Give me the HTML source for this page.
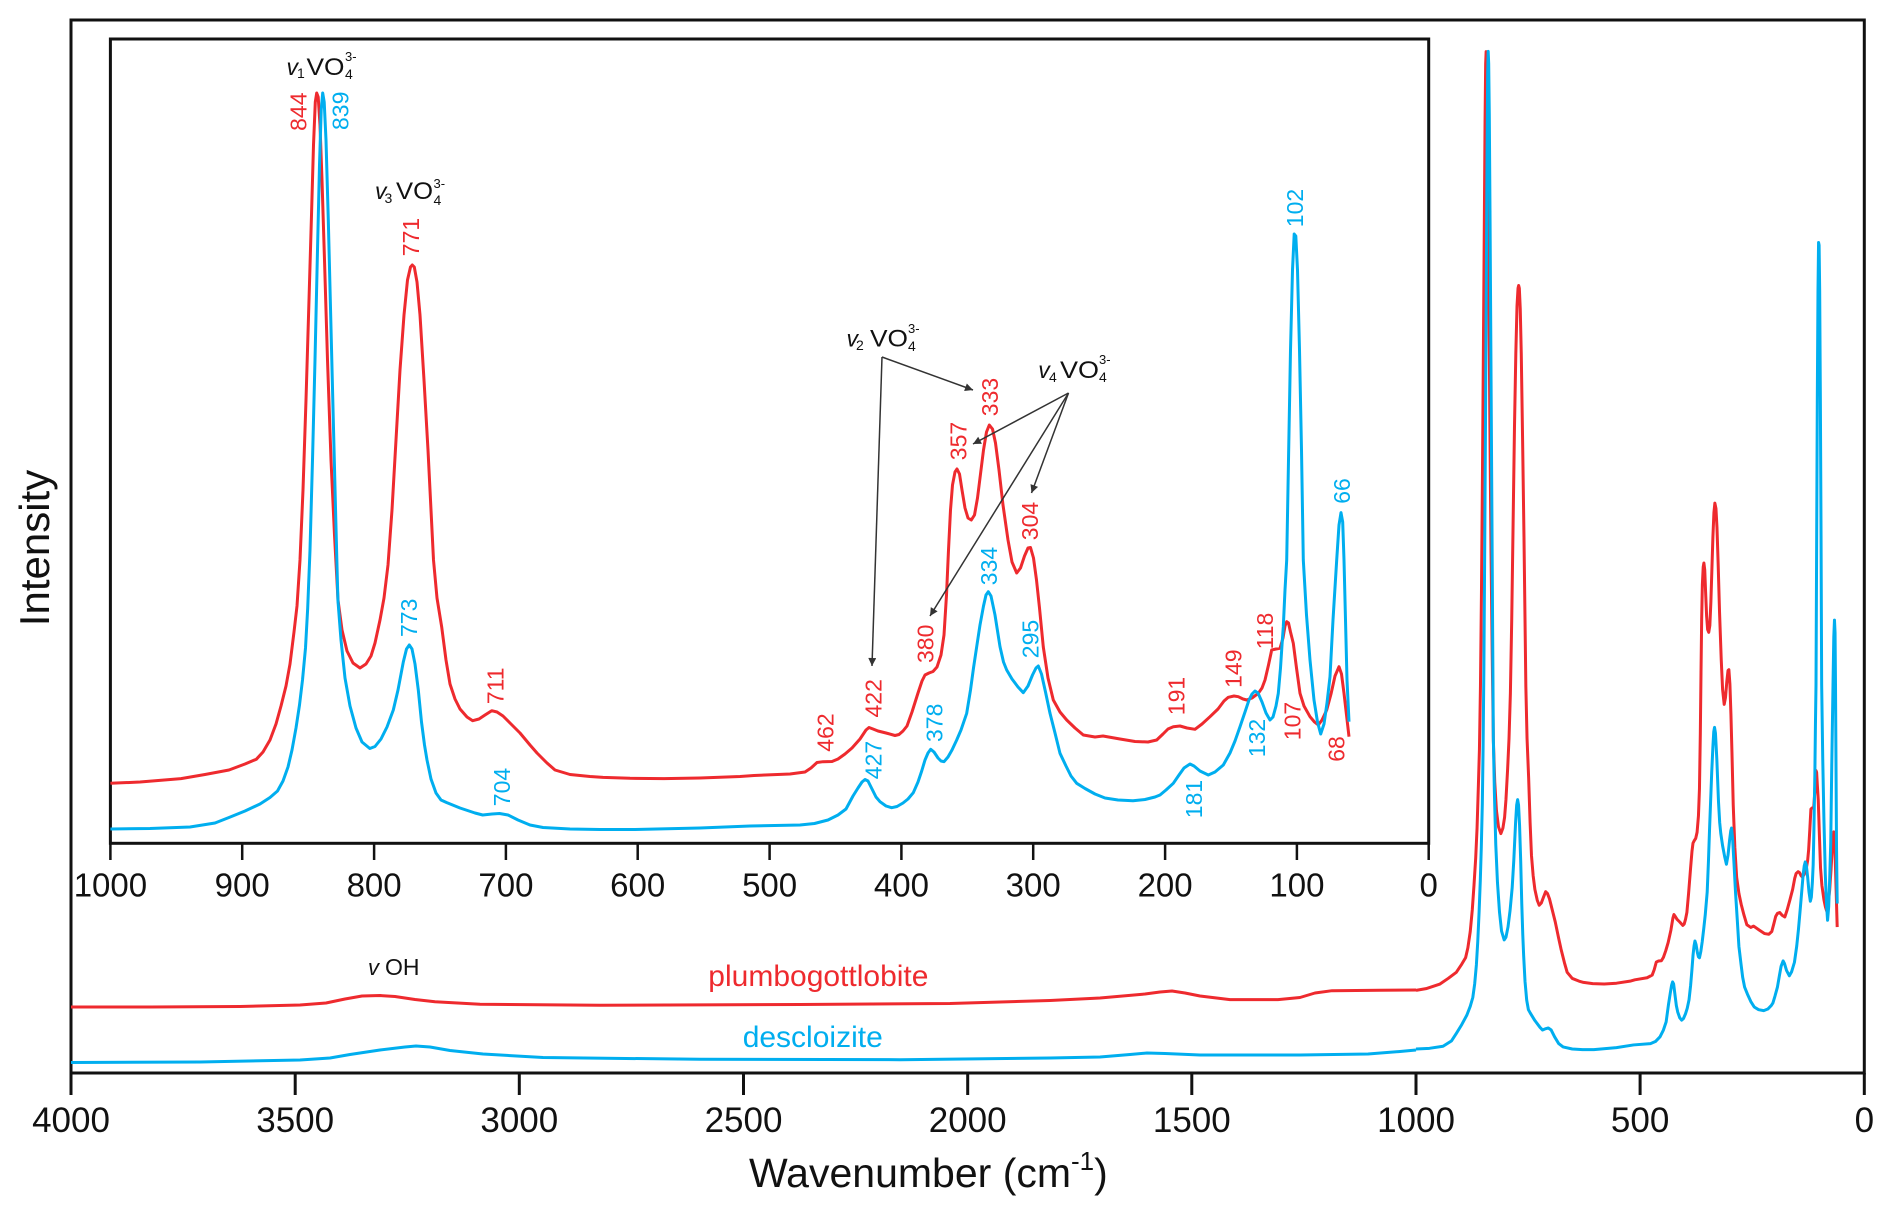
<!DOCTYPE html>
<html><head><meta charset="utf-8"><style>
html,body{margin:0;padding:0;background:#fff;}
svg{display:block;}
text{font-family:"Liberation Sans",Arial,sans-serif;}
</style></head><body>
<svg width="1892" height="1216" viewBox="0 0 1892 1216" xmlns="http://www.w3.org/2000/svg">
<defs>
<marker id="ah" viewBox="0 0 10 10" refX="10" refY="5" markerWidth="11" markerHeight="8" markerUnits="userSpaceOnUse" orient="auto"><path d="M0,0 L10,5 L0,10 z" fill="#333"/></marker>
</defs>
<rect x="0" y="0" width="1892" height="1216" fill="#fff"/>

<!-- outer frame -->
<rect x="71" y="20" width="1793.3" height="1053" fill="none" stroke="#111" stroke-width="3"/>
<g stroke="#111" stroke-width="3">
<line x1="71" y1="1073" x2="71" y2="1095"/>
<line x1="295.2" y1="1073" x2="295.2" y2="1095"/>
<line x1="519.3" y1="1073" x2="519.3" y2="1095"/>
<line x1="743.5" y1="1073" x2="743.5" y2="1095"/>
<line x1="967.7" y1="1073" x2="967.7" y2="1095"/>
<line x1="1191.8" y1="1073" x2="1191.8" y2="1095"/>
<line x1="1416" y1="1073" x2="1416" y2="1095"/>
<line x1="1640.1" y1="1073" x2="1640.1" y2="1095"/>
<line x1="1864.3" y1="1073" x2="1864.3" y2="1095"/>
</g>
<g font-size="35" text-anchor="middle" fill="#111">
<text x="71" y="1132">4000</text>
<text x="295.2" y="1132">3500</text>
<text x="519.3" y="1132">3000</text>
<text x="743.5" y="1132">2500</text>
<text x="967.7" y="1132">2000</text>
<text x="1191.8" y="1132">1500</text>
<text x="1416" y="1132">1000</text>
<text x="1640.1" y="1132">500</text>
<text x="1864.3" y="1132">0</text>
</g>
<text x="749" y="1187" font-size="41" fill="#111">Wavenumber (cm<tspan font-size="26" dy="-17">-1</tspan><tspan dy="17">)</tspan></text>
<text transform="translate(49,548) rotate(-90)" font-size="42" text-anchor="middle" fill="#111">Intensity</text>

<!-- outer curves: high wavenumber part -->
<polyline fill="none" stroke="#ee2a2e" stroke-width="3" stroke-linejoin="round" points="71,1007 150,1007 240,1006.5 300,1005 326,1003 345,999 362,996 380,995.5 395,996.5 415,999.5 435,1001.8 480,1004.3 600,1005.3 800,1004.5 950,1003.5 1050,1000.5 1100,998 1145,994 1160,992 1172,991 1185,993 1200,996 1230,999.6 1278,999.6 1300,997.5 1315,993 1332,990.7 1380,990.3 1416,990"/>
<polyline fill="none" stroke="#00aeef" stroke-width="3" stroke-linejoin="round" points="71,1062.5 200,1062 300,1060 330,1058 350,1054.5 380,1050 405,1047 416,1046 430,1047 450,1050.5 483,1054 543,1057.5 700,1059.3 900,1059.7 1050,1058 1100,1057 1130,1054.5 1147,1053 1165,1053.5 1200,1055 1300,1055 1368,1054 1400,1051.5 1416,1050"/>

<!-- inset -->
<rect x="110.4" y="39" width="1318.3" height="804.3" fill="#fff" stroke="#111" stroke-width="3"/>
<g stroke="#111" stroke-width="2.5">
<line x1="110.4" y1="843" x2="110.4" y2="860"/>
<line x1="242.2" y1="843" x2="242.2" y2="860"/>
<line x1="374.1" y1="843" x2="374.1" y2="860"/>
<line x1="505.9" y1="843" x2="505.9" y2="860"/>
<line x1="637.7" y1="843" x2="637.7" y2="860"/>
<line x1="769.6" y1="843" x2="769.6" y2="860"/>
<line x1="901.4" y1="843" x2="901.4" y2="860"/>
<line x1="1033.2" y1="843" x2="1033.2" y2="860"/>
<line x1="1165.1" y1="843" x2="1165.1" y2="860"/>
<line x1="1296.9" y1="843" x2="1296.9" y2="860"/>
<line x1="1428.7" y1="843" x2="1428.7" y2="860"/>
</g>
<g font-size="33" text-anchor="middle" fill="#111">
<text x="110.4" y="896.7">1000</text>
<text x="242.2" y="896.7">900</text>
<text x="374.1" y="896.7">800</text>
<text x="505.9" y="896.7">700</text>
<text x="637.7" y="896.7">600</text>
<text x="769.6" y="896.7">500</text>
<text x="901.4" y="896.7">400</text>
<text x="1033.2" y="896.7">300</text>
<text x="1165.1" y="896.7">200</text>
<text x="1296.9" y="896.7">100</text>
<text x="1428.7" y="896.7">0</text>
</g>

<polyline id="rI" fill="none" stroke="#ee2a2e" stroke-width="3" stroke-linejoin="round" vector-effect="non-scaling-stroke" points="110.4,783.3 140,782 181,778.6 205,774.5 229,770 245,764 256.4,759.2 263,752 270,740 276,724 281,706 286,686 290,664 294,632 297,606 300,560 303,490 306,400 309,300 311.5,215 313.5,145 315.3,102 316.7,93 318.2,97 320,125 322,180 324.5,260 327.5,360 331,460 334.5,535 338,600 342,630 347,651 353,663 360,668 366,664 371,656 375,643 380,620 384,598 388,565 392,510 396,440 400,370 404,315 407.5,280 410.5,267 412.3,265 414.3,267 417,282 420,315 424,380 428,450 431,510 433.5,560 437,598 441.7,627 446,660 450,684 455,699 460,709 467,717 472.7,720.7 479,719 485,715 491.7,710.7 497,712 503,716 510,723 520,733 530,745 537,753 547,763 555,770 570,774.5 590,776.5 603,777.4 630,778.3 664,778.6 700,778 740,776.5 754,775.5 790,774 805,772 811,768 817,762.5 823,761.7 832,761.5 838,759 845,754 852,748 860,739 866,730 869,727.5 873,729 878,731 886,733 895,735.5 899,734.5 903,731 907,726 912,712 918,693 922,681 925,675 929,673 933,671.5 937,667 941,655 944,635 946.5,595 948.5,550 950.5,510 952.5,485 955,472 957,469 959.5,474 962,490 965,508 968,518 971.3,520 974.5,515 977.5,498 980.5,474 983.5,450 986.5,432 989.3,425 992.5,429 995.5,443 999,470 1003,505 1008,540 1012,562 1016.7,573 1020.5,568 1024.5,556 1028,548 1030.5,547.5 1033.5,558 1036.5,580 1039.5,608 1043.3,647 1048,678 1053.3,700 1060,712 1066.7,720 1075,728 1083.3,735 1095,737 1103,736 1120,739 1135,741.5 1148,742 1156.7,740 1163,734 1168,729 1173.3,726.7 1180,726 1187,728 1195,729.3 1202,724 1210,716.7 1218,709 1224,701 1228.3,697.3 1234,696 1238.3,696.7 1243,699 1246.7,700 1252,698 1258.3,693.3 1262,688 1265,680 1268.5,665 1271.7,650 1276,649 1280,648.3 1283,638 1285,626 1286.7,621.7 1288.5,623 1290.5,632 1293.3,643.3 1296.5,668 1300,693.3 1304,706 1310,716.7 1314.5,722 1318.3,725 1322,720 1326.7,710 1331,694 1335,676 1339,666.7 1341.5,674 1344,693.3 1346.5,715 1349,736.7"/>
<polyline id="bI" fill="none" stroke="#00aeef" stroke-width="3" stroke-linejoin="round" vector-effect="non-scaling-stroke" points="110.4,829 150,828.5 190,827 215,823 229.3,817.4 245,811 260,804 270,797.5 277.5,791 283,781 288,767 292,750 296,728 299.5,705 302.5,680 305.5,648 307.7,608 310,550 312.5,460 315,360 317.5,250 319.5,165 321.2,110 322.7,93 324.2,102 326,140 328.3,220 330.8,320 333.3,420 335.8,520 337.9,600 341,640 345,678 350,706 356,728 362,742 369.8,748.5 375,746.5 381,739 387,727 393.3,710 398,690 403.3,662 406.5,649 409.3,645 412,649 415,664 418.3,690 421.5,722 424.5,745 427,760 431,779 436,793 441,800 446.5,802.5 460,808 475,813 482.7,815 492,814 499.5,813.5 508,815 518,820 530,825 543,827.5 570,829 600,829.5 633.5,829.5 700,828 750,826 800,825 814.5,823.5 828,820 838,815 846,809 853,796 858,788 862,782 865,779.5 868,781 872,789 876,797 880,801.7 886,806 891.7,807.7 897,806.5 903,803 908,799 913.3,792.7 918,782 921.7,771 925,760 928,753 930.7,749.3 934,752 938,758 941,761 944,761.7 948,757 952,750 956.7,740 961,730 966.7,713.3 970.5,690 973.5,668 976.7,646.7 980,625 983.5,606 986,595 988.3,591.7 991,596 995,615 1000,646.7 1003.5,662 1006.7,670 1012,679 1018,687 1023.3,692.7 1028,686 1032.5,675 1036,668 1038.3,666 1041.5,674 1045.5,692 1050,713.3 1055,733 1060,753.3 1066,766 1071,776 1076.7,783.3 1085,788.5 1095,794 1105,798 1118,800 1133,800.7 1145,799.5 1155,797 1160,795 1166,790 1173.3,783.3 1179,775 1184,768 1190,764 1194,766 1200,771 1208.3,775 1215,772 1223.3,765 1230,753 1235,741 1240,726.7 1245,712 1249,700 1252,694 1255,691 1258,693 1262,702 1266,713 1270,720 1273,717 1276,706 1278.3,693.3 1280.5,668 1282,645 1283.3,626.7 1285,590 1286.7,560 1288.5,460 1290.5,350 1292.5,270 1294.2,234 1295.8,236 1297.5,270 1299.5,350 1301.5,450 1303.3,560 1306.5,615 1310,660 1314,700 1317.5,722 1320.7,734 1324,724 1327,703 1330,676.7 1333,620 1336.7,560 1339,525 1341,512.6 1342.7,522 1344,560 1345.5,620 1347,680 1349,721.7"/>

<!-- outer low-wavenumber part (scaled copy of inset spectra) -->
<use href="#rI" transform="matrix(0.34008 0 0 1.36 1378.43 -74.88)"/>
<use href="#bI" transform="matrix(0.34008 0 0 1.3555 1378.43 -74.71)"/>

<!-- rotated peak labels -->
<g font-size="23" text-anchor="middle" dominant-baseline="central">
<g fill="#ee2a2e">
<text transform="translate(298.7,111.7) rotate(-90)">844</text>
<text transform="translate(411,237) rotate(-90)">771</text>
<text transform="translate(495.3,685.8) rotate(-90)">711</text>
<text transform="translate(825.3,732.5) rotate(-90)">462</text>
<text transform="translate(873.3,698.3) rotate(-90)">422</text>
<text transform="translate(925.3,643.8) rotate(-90)">380</text>
<text transform="translate(958.3,441) rotate(-90)">357</text>
<text transform="translate(990,397) rotate(-90)">333</text>
<text transform="translate(1030,521) rotate(-90)">304</text>
<text transform="translate(1176.7,696) rotate(-90)">191</text>
<text transform="translate(1233.3,668.7) rotate(-90)">149</text>
<text transform="translate(1265,631) rotate(-90)">118</text>
<text transform="translate(1292.3,721) rotate(-90)">107</text>
<text transform="translate(1336.7,749) rotate(-90)">68</text>
</g>
<g fill="#00aeef">
<text transform="translate(340.5,110.8) rotate(-90)">839</text>
<text transform="translate(409.2,617.8) rotate(-90)">773</text>
<text transform="translate(502,787) rotate(-90)">704</text>
<text transform="translate(873.3,760) rotate(-90)">427</text>
<text transform="translate(934.7,722.8) rotate(-90)">378</text>
<text transform="translate(989,566) rotate(-90)">334</text>
<text transform="translate(1030.3,639) rotate(-90)">295</text>
<text transform="translate(1194,799) rotate(-90)">181</text>
<text transform="translate(1257,738) rotate(-90)">132</text>
<text transform="translate(1295,208) rotate(-90)">102</text>
<text transform="translate(1342,491) rotate(-90)">66</text>
</g>
</g>

<!-- black annotations -->
<g fill="#111">
<text x="286.5" y="75" font-size="23" font-style="italic">v</text>
<text x="297" y="78" font-size="14">1</text>
<text x="306.5" y="75" font-size="24" textLength="38" lengthAdjust="spacingAndGlyphs">VO</text>
<text x="345" y="79" font-size="14">4</text>
<text x="345" y="61" font-size="13">3-</text>

<text x="375" y="199" font-size="23" font-style="italic">v</text>
<text x="384.5" y="203" font-size="14">3</text>
<text x="396" y="199" font-size="24" textLength="37" lengthAdjust="spacingAndGlyphs">VO</text>
<text x="433.5" y="205" font-size="14">4</text>
<text x="433.5" y="188" font-size="13">3-</text>

<text x="846.5" y="346.5" font-size="23" font-style="italic">v</text>
<text x="856" y="350" font-size="14">2</text>
<text x="870" y="346.5" font-size="24" textLength="38" lengthAdjust="spacingAndGlyphs">VO</text>
<text x="908" y="351" font-size="14">4</text>
<text x="908" y="333" font-size="13">3-</text>

<text x="1038.3" y="378" font-size="23" font-style="italic">v</text>
<text x="1049" y="382" font-size="14">4</text>
<text x="1060" y="378" font-size="24" textLength="39" lengthAdjust="spacingAndGlyphs">VO</text>
<text x="1099" y="382" font-size="14">4</text>
<text x="1099" y="364" font-size="13">3-</text>

<text x="368" y="975" font-size="22" font-style="italic">v</text>
<text x="385" y="975" font-size="23">OH</text>
</g>

<g stroke="#333" stroke-width="1.5" fill="none" marker-end="url(#ah)">
<line x1="882" y1="357" x2="872" y2="666"/>
<line x1="882" y1="357" x2="973" y2="390"/>
<line x1="1068.5" y1="393" x2="973" y2="444"/>
<line x1="1068.5" y1="393" x2="930" y2="616"/>
<line x1="1068.5" y1="393" x2="1031.5" y2="493"/>
</g>

<text x="708.3" y="986" font-size="30" fill="#ee2a2e">plumbogottlobite</text>
<text x="742.7" y="1047" font-size="30" fill="#00aeef">descloizite</text>
</svg>
</body></html>
